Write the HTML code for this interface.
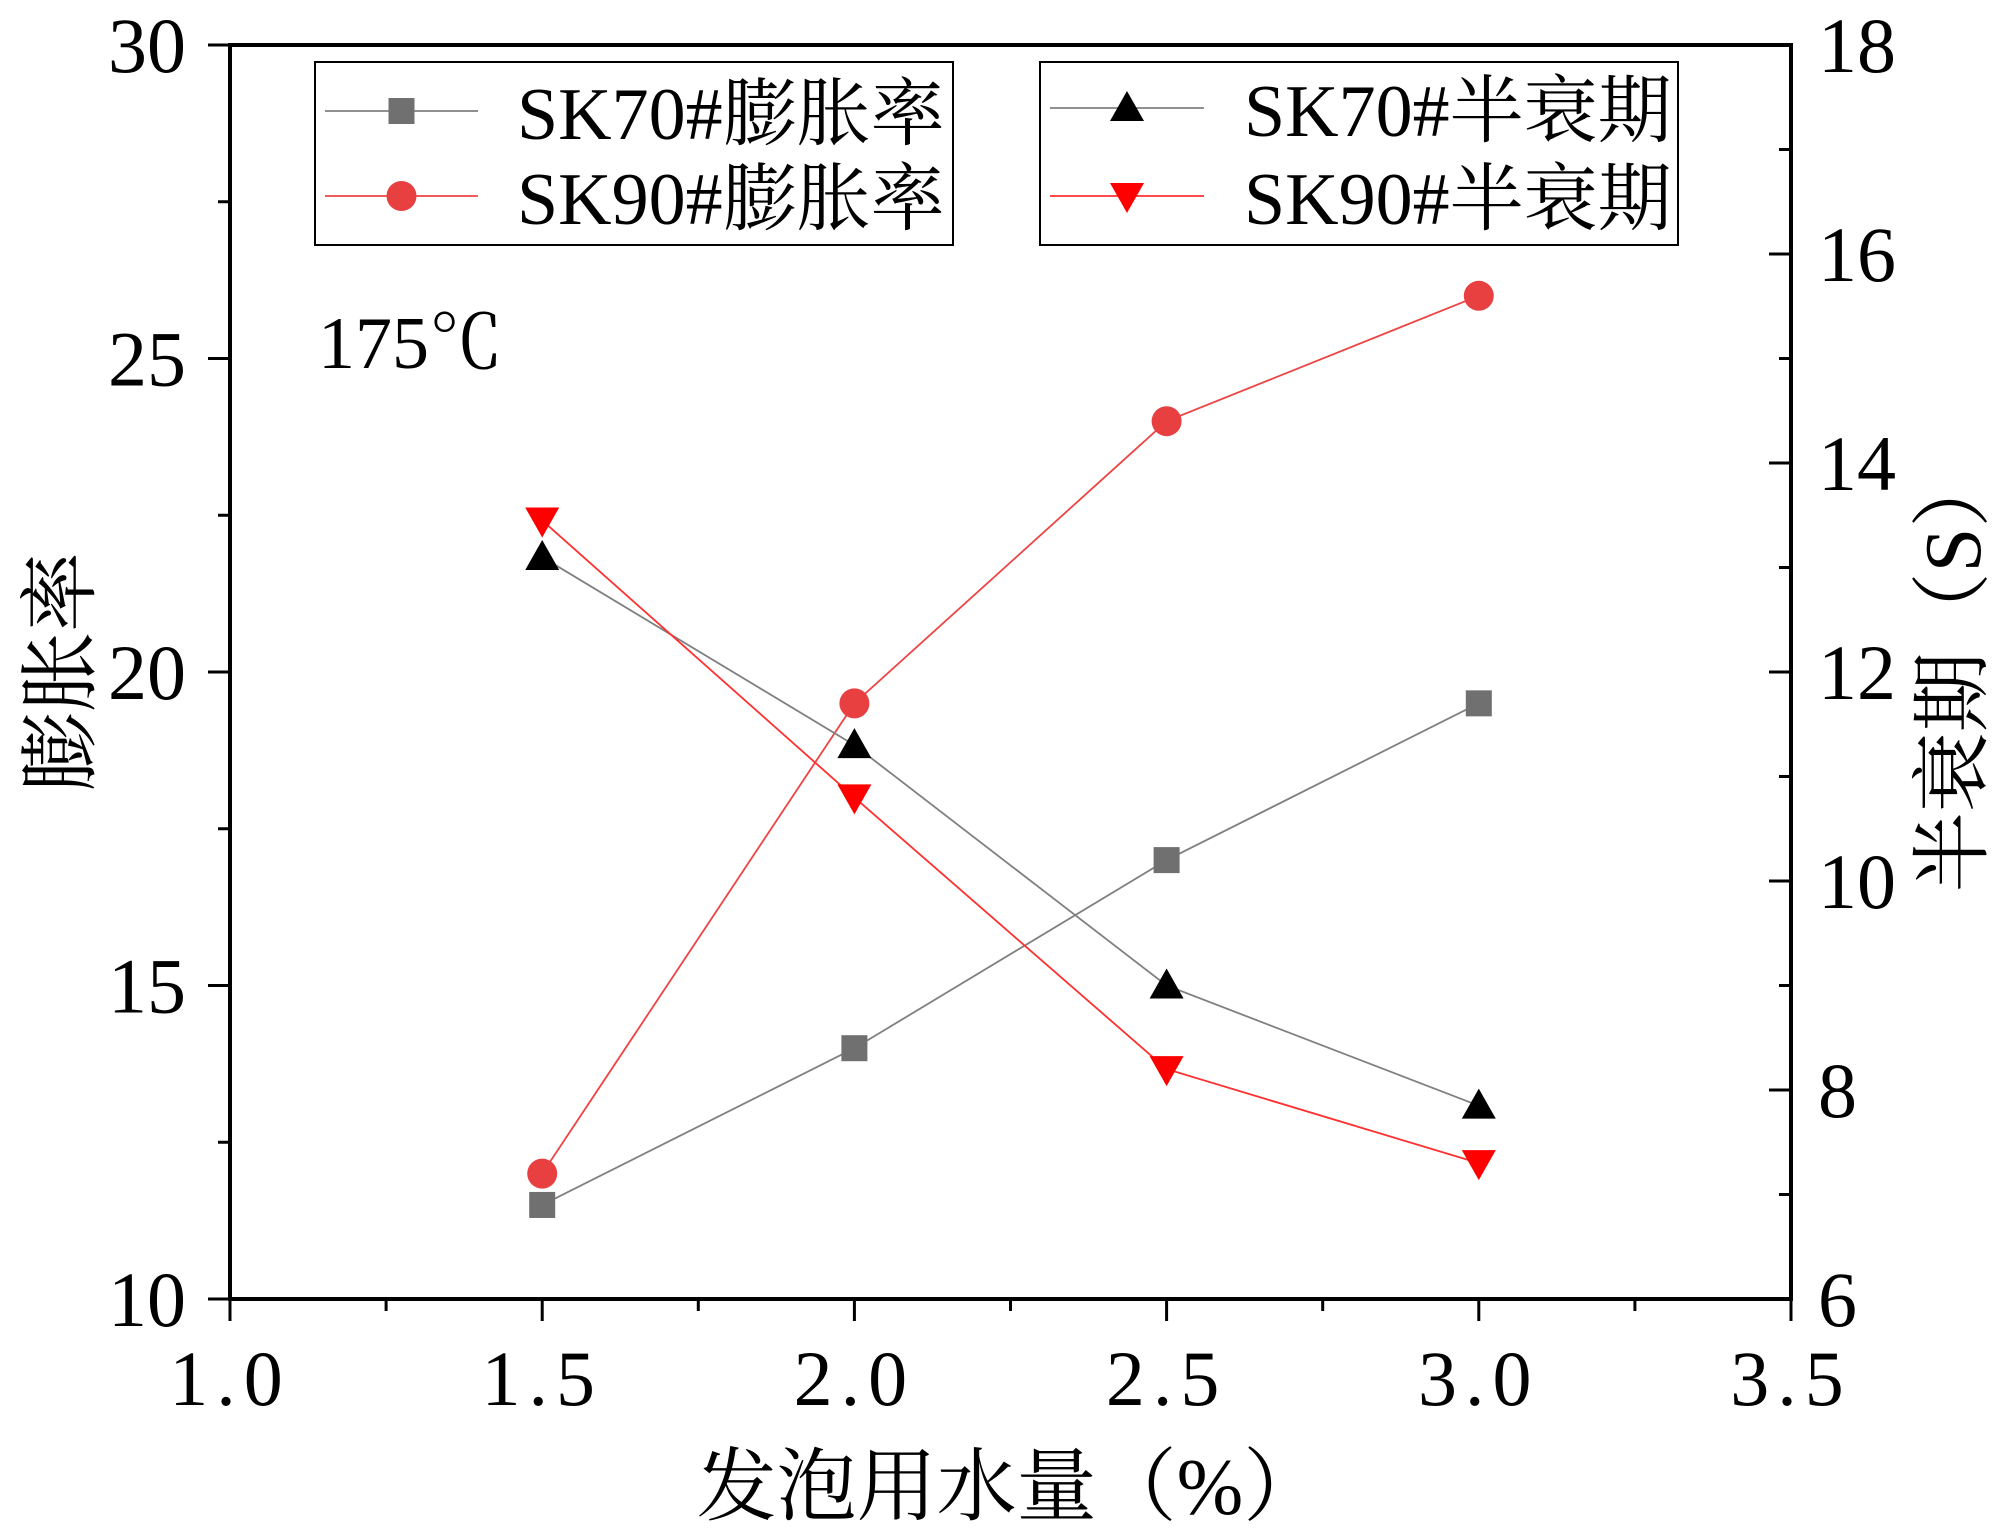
<!DOCTYPE html>
<html><head><meta charset="utf-8"><style>
html,body{margin:0;padding:0;background:#fff;}
svg text{font-family:"Liberation Serif","Noto Serif CJK SC",serif;fill:#000;}
</style></head><body>
<svg id="chart" width="2000" height="1535" viewBox="0 0 2000 1535" xmlns="http://www.w3.org/2000/svg">
<g id="plot"></g>
</svg>
<script>
const xCats = [1.5, 2.0, 2.5, 3.0];
const sk70Expansion = [11.5, 14, 17, 19.5];
const sk90Expansion = [12, 19.5, 24, 26];
const sk70HalfLife = [13.1, 11.3, 9.0, 7.85];
const sk90HalfLife = [13.45, 10.8, 8.2, 7.3];
const xTicks = ["1.0","1.5","2.0","2.5","3.0","3.5"];
const yLeftTicks = ["10","15","20","25","30"];
const yRightTicks = ["6","8","10","12","14","16","18"];

const L=230,R=1791,T=45,B=1299;
const sx=v=>L+(v-1.0)/(2.5)*(R-L);
const syL=v=>B-(v-10)/20*(B-T);
const syR=v=>B-(v-6)/12*(B-T);
const NS="http://www.w3.org/2000/svg";
const g=document.getElementById('plot');
function mk(tag,attrs,parent){const e=document.createElementNS(NS,tag);for(const k in attrs)e.setAttribute(k,attrs[k]);(parent||g).appendChild(e);return e;}

const frame=mk('rect',{x:L,y:T,width:R-L,height:B-T,fill:'none',stroke:'#000','stroke-width':4});



for(let i=0;i<=10;i++){const v=1+i*0.25;const major=i%2===0;
 const t=mk('line',{x1:sx(v),x2:sx(v),y1:B,y2:B+(major?22:12),stroke:'#000','stroke-width':3});
 
 }
xTicks.forEach(s=>{const t=mk('text',{x:sx(parseFloat(s)),y:1405,'font-size':78,'text-anchor':'middle','letter-spacing':8});t.textContent=s;
 
 });
for(let i=0;i<=8;i++){const v=10+i*2.5;const major=i%2===0;
 const t=mk('line',{x1:L-(major?22:12),x2:L,y1:syL(v),y2:syL(v),stroke:'#000','stroke-width':3});
 
 }
yLeftTicks.forEach(s=>{const t=mk('text',{x:186,y:syL(parseFloat(s))+27,'font-size':78,'text-anchor':'end'});t.textContent=s;
 
 });
for(let i=0;i<=12;i++){const v=6+i;const major=i%2===0;
 const t=mk('line',{x1:R-(major?22:12),x2:R,y1:syR(v),y2:syR(v),stroke:'#000','stroke-width':3});
 
 }
yRightTicks.forEach(s=>{const t=mk('text',{x:1818,y:syR(parseFloat(s))+27,'font-size':78,'text-anchor':'start'});t.textContent=s;
 
 });

let t=mk('text',{x:1010,y:1514,'font-size':80,'text-anchor':'middle'});t.textContent='发泡用水量（%）';


t=mk('text',{x:0,y:0,'font-size':80,'text-anchor':'middle',transform:'translate(88,672) rotate(-90)'});t.textContent='膨胀率';


t=mk('text',{x:0,y:0,'font-size':80,'text-anchor':'middle',transform:'translate(1980,670) rotate(-90)'});t.textContent='半衰期（S）';


t=mk('text',{x:318,y:368,'font-size':74});t.textContent='175℃';



function marker(type,cx,cy,color,name){let e;
 if(type==='sq')e=mk('rect',{x:cx-13,y:cy-13,width:26,height:26,fill:color});
 else if(type==='ci')e=mk('circle',{cx:cx,cy:cy,r:15,fill:color});
 else if(type==='up')e=mk('polygon',{points:`${cx},${cy-17} ${cx-17},${cy+13} ${cx+17},${cy+13}`,fill:color});
 else e=mk('polygon',{points:`${cx},${cy+17} ${cx-17},${cy-13} ${cx+17},${cy-13}`,fill:color});
 
 }
function series(vals,ys,color,lineColor,type,name){
 const p=mk('polyline',{points:vals.map((v,i)=>sx(xCats[i])+','+ys(v)).join(' '),fill:'none',stroke:lineColor,'stroke-width':1.8});
 
 
 vals.forEach((v,i)=>marker(type,sx(xCats[i]),ys(v),color,name+'-point'));}
series(sk70Expansion,syL,'#707070','#808080','sq','sk70-expansion');
series(sk90Expansion,syL,'#e84040','#ee4444','ci','sk90-expansion');
series(sk70HalfLife,syR,'#000','#808080','up','sk70-half-life');
series(sk90HalfLife,syR,'#ff0000','#ff3030','dn','sk90-half-life');

function legend(x,y,w,h,items,name){const b=mk('rect',{x:x,y:y,width:w,height:h,fill:'#fff',stroke:'#000','stroke-width':2});
 
 
 items.forEach(it=>{const l=mk('line',{x1:it.lx1,x2:it.lx2,y1:it.y,y2:it.y,stroke:it.lc,'stroke-width':1.8});
  
  
  marker(it.type,(it.lx1+it.lx2)/2,it.y,it.c,'legend-marker');
  const tx=mk('text',{x:it.tx,y:it.y+28,'font-size':74});tx.textContent=it.label;
  
  });}
legend(315,62,638,183,[
 {lx1:325,lx2:478,y:111,lc:'#808080',c:'#707070',type:'sq',tx:517,label:'SK70#膨胀率'},
 {lx1:325,lx2:478,y:196,lc:'#ee4444',c:'#e84040',type:'ci',tx:517,label:'SK90#膨胀率'}],'legend-expansion');
legend(1040,62,638,183,[
 {lx1:1050,lx2:1204,y:108,lc:'#808080',c:'#000',type:'up',tx:1244,label:'SK70#半衰期'},
 {lx1:1050,lx2:1204,y:196,lc:'#ff3030',c:'#ff0000',type:'dn',tx:1244,label:'SK90#半衰期'}],'legend-half-life');
</script>
</body></html>
